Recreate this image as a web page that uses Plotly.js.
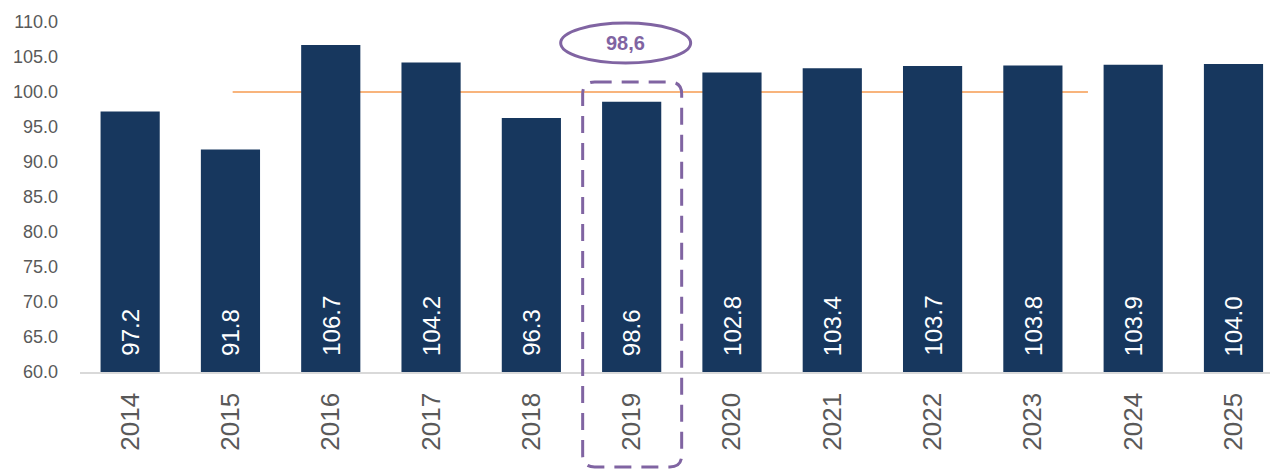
<!DOCTYPE html>
<html><head><meta charset="utf-8">
<script src="https://cdn.plot.ly/plotly-3.0.1.min.js"></script>
<style>html,body{margin:0;padding:0;background:#fff}#chart{width:1270px;height:471px}</style>
</head><body><div id="chart"></div>
<script>
const years = ['2014','2015','2016','2017','2018','2019','2020','2021','2022','2023','2024','2025'];
const values = [97.2, 91.8, 106.7, 104.2, 96.3, 98.6, 102.8, 103.4, 103.7, 103.8, 103.9, 104.0];
const valueLabels = ['97.2','91.8','106.7','104.2','96.3','98.6','102.8','103.4','103.7','103.8','103.9','104.0'];
const highlightYear = '2019';
const highlightLabel = '98,6';
const referenceLevel = 100;

const W = 1270, H = 471;
const mL = 80, mR = 0, mT = 22, mB = 99;
const xRange = [-0.5, 11.364];
const yRange = [60, 110];
const plotW = W - mL - mR, plotH = H - mT - mB;
const navy = '#17375e';
const purple = '#8064a2';

const pxX = v => (v - mL) / plotW;
const pxY = v => (H - mB - v) / plotH;
const dataXtoPaper = i => (i - xRange[0]) / (xRange[1] - xRange[0]);
const dataYtoPaper = v => (v - yRange[0]) / (yRange[1] - yRange[0]);

const hi = years.indexOf(highlightYear);
const cx = mL + dataXtoPaper(hi) * plotW;
const rx0 = cx - 49, rx1 = cx + 50, ry0 = 82, ry1 = 467, r = 12;
const P = (x, y) => `${pxX(x)},${pxY(y)}`;
const rectPath = `M ${P(rx0 + r, ry0)} L ${P(rx1 - r, ry0)} Q ${P(rx1, ry0)} ${P(rx1, ry0 + r)} L ${P(rx1, ry1 - r)} Q ${P(rx1, ry1)} ${P(rx1 - r, ry1)} L ${P(rx0 + r, ry1)} Q ${P(rx0, ry1)} ${P(rx0, ry1 - r)} L ${P(rx0, ry0 + r)} Q ${P(rx0, ry0)} ${P(rx0 + r, ry0)} Z`;

const trace = {
  type: 'bar', x: years, y: values,
  marker: {color: navy, line: {width: 0}},
  hoverinfo: 'skip'
};

const annotations = years.map((yr, i) => ({
  x: dataXtoPaper(i), y: dataYtoPaper(yRange[0]), xref: 'paper', yref: 'paper',
  text: valueLabels[i], showarrow: false, textangle: -90,
  xanchor: 'center', yanchor: 'bottom', yshift: 14,
  font: {family: 'Liberation Sans, Arial, sans-serif', size: 24, color: '#ffffff'}
}));
annotations.push({
  x: pxX(cx - 6), y: pxY(43), xref: 'paper', yref: 'paper',
  text: '<b>' + highlightLabel + '</b>', showarrow: false,
  xanchor: 'center', yanchor: 'middle',
  font: {family: 'Liberation Sans, Arial, sans-serif', size: 20, color: purple}
});

const shapes = [
  {type: 'line', xref: 'x', yref: 'y', x0: 1.022, x1: 9.549, y0: referenceLevel, y1: referenceLevel,
   line: {color: '#f8b47c', width: 2}, layer: 'below'},
  {type: 'path', xref: 'paper', yref: 'paper', path: rectPath,
   line: {color: purple, width: 3, dash: '17px,10px'}},
  {type: 'circle', xref: 'paper', yref: 'paper',
   x0: pxX(cx - 71), x1: pxX(cx + 59), y0: pxY(63), y1: pxY(23),
   line: {color: purple, width: 3}}
];

const layout = {
  width: W, height: H,
  margin: {l: mL, r: mR, t: mT, b: mB, pad: 0},
  paper_bgcolor: '#ffffff', plot_bgcolor: '#ffffff',
  showlegend: false, bargap: 0.41,
  xaxis: {
    type: 'category', range: xRange, showgrid: false, zeroline: false,
    showline: true, linecolor: '#d9d9d9', linewidth: 1.5,
    ticks: '', tickangle: -90, ticklabelstandoff: 9,
    tickfont: {family: 'Liberation Sans, Arial, sans-serif', size: 26, color: '#595959'}
  },
  yaxis: {
    range: yRange, dtick: 5, tick0: 60, tickformat: '.1f',
    showgrid: false, zeroline: false, showline: false, ticks: '',
    ticklabelstandoff: 21,
    tickfont: {family: 'Liberation Sans, Arial, sans-serif', size: 18, color: '#595959'}
  },
  shapes: shapes, annotations: annotations
};

Plotly.newPlot('chart', [trace], layout, {displayModeBar: false, staticPlot: true});
</script></body></html>
